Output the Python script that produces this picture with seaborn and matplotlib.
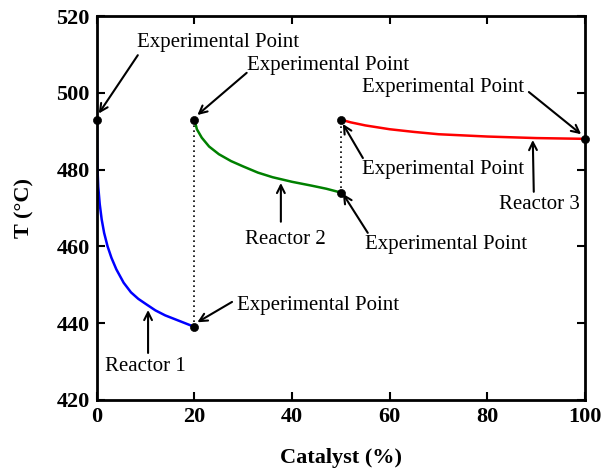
import numpy as np
import pandas as pd
import matplotlib
matplotlib.use("Agg")
import matplotlib.pyplot as plt
import seaborn as sns

# ---- data ----
r1_x = [0, 0.05, 0.15, 0.3, 0.6, 1.0, 1.5, 2.2, 3.0, 4.0, 5.5, 7.0, 8.5, 10, 12, 14, 16, 18, 20]
r1_T = [493, 486, 480, 475.5, 471, 467, 463.5, 460, 457, 454, 450.5, 448, 446.3, 445, 443.3, 442, 441, 440, 439]
r2_x = [20, 20.5, 21.5, 23, 25, 27.5, 30, 33, 36, 40, 44, 47, 50]
r2_T = [493, 490.5, 488.3, 486, 484, 482.2, 480.8, 479.2, 478, 476.8, 475.8, 475, 474]
r3_x = [50, 52, 55, 60, 65, 70, 80, 90, 100]
r3_T = [493, 492.3, 491.5, 490.5, 489.8, 489.2, 488.6, 488.2, 488]
exp_x = [0, 20, 20, 50, 50, 100]
exp_T = [493, 493, 439, 493, 474, 488]
reactors = ["Reactor 1", "Reactor 2", "Reactor 3"]
colors = ["#0000ff", "#008000", "#ff0000"]

df = pd.concat([
    pd.DataFrame({"x": r1_x, "T": r1_T, "r": reactors[0]}),
    pd.DataFrame({"x": r2_x, "T": r2_T, "r": reactors[1]}),
    pd.DataFrame({"x": r3_x, "T": r3_T, "r": reactors[2]}),
])
exp_df = pd.DataFrame({"x": exp_x, "T": exp_T})

sns.set_theme(style="ticks")
plt.rcParams["font.family"] = ["Liberation Serif", "DejaVu Serif"]
for k in ["text.color", "axes.labelcolor", "xtick.color", "ytick.color", "axes.edgecolor"]:
    plt.rcParams[k] = "black"

fig = plt.figure(figsize=(6.05, 4.72), dpi=100)
ax = fig.add_axes([0.160, 0.153, 0.807, 0.813])

# dotted connectors
ax.plot([20, 20], [439, 493], ls=(0, (1, 2)), color="black", lw=1.2)
ax.plot([50, 50], [474, 493], ls=(0, (1, 2)), color="black", lw=1.2)

sns.lineplot(data=df, x="x", y="T", hue="r", palette=dict(zip(reactors, colors)),
             sort=False, legend=False, lw=1.8, ax=ax, estimator=None)
sns.scatterplot(data=exp_df, x="x", y="T", color="black", s=34, zorder=5,
                edgecolor="black", ax=ax, clip_on=False)

ax.set_xlim(0, 100)
ax.set_ylim(420, 520)
ax.set_xticks(range(0, 101, 20))
ax.set_yticks(range(420, 521, 20))
ax.tick_params(direction="in", length=6, width=1.5, top=True, right=True,
               labelsize=16, pad=5, colors="black")
for lab in ax.get_xticklabels() + ax.get_yticklabels():
    lab.set_fontweight("bold")
for sp in ax.spines.values():
    sp.set_linewidth(2)
    sp.set_visible(True)
    sp.set_color("black")

ax.set_xlabel("Catalyst (%)", fontsize=16, fontweight="bold", labelpad=15)
ax.set_ylabel("T (°C)", fontsize=16, fontweight="bold", labelpad=16)

arrow = dict(arrowstyle="->", color="black", lw=1.5, mutation_scale=14,
             shrinkA=0, shrinkB=0)
fs = 15

def ann(text, tx, ty, ha, tail, head):
    ax.text(tx, ty, text, fontsize=fs, ha=ha, va="center")
    ax.annotate("", xy=head, xytext=tail, arrowprops=arrow)

ann("Experimental Point", 8.2, 513.2, "left", (8.4, 509.8), (0.4, 494.6))
ann("Experimental Point", 30.7, 507.0, "left", (30.7, 505.2), (20.6, 494.2))
ann("Experimental Point", 87.5, 501.3, "right", (88.5, 500.2), (99.2, 489.2))
ann("Experimental Point", 54.3, 479.9, "left", (54.5, 483.0), (50.4, 491.9))
ann("Reactor 3", 82.4, 470.8, "left", (89.5, 474.2), (89.3, 487.7))
ann("Experimental Point", 54.9, 460.4, "left", (55.5, 463.5), (50.4, 473.7))
ann("Reactor 2", 38.7, 461.7, "center", (37.7, 466.4), (37.7, 476.5))
ann("Experimental Point", 28.7, 444.7, "left", (27.7, 445.5), (20.6, 440.2))
ann("Reactor 1", 1.6, 428.6, "left", (10.5, 432.2), (10.5, 443.4))

fig.savefig("out.png", dpi=100)
